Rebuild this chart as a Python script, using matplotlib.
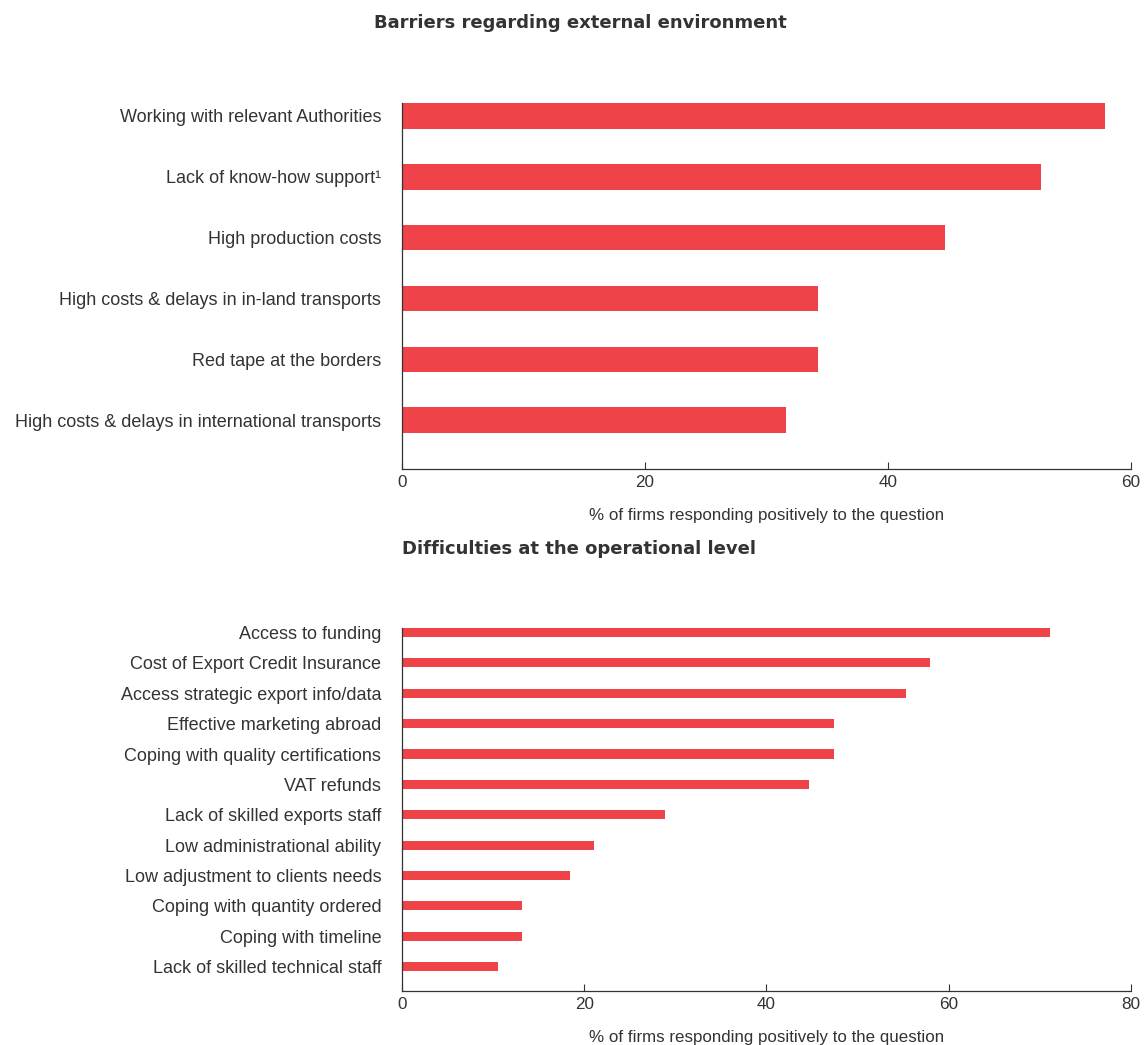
import matplotlib
matplotlib.use("Agg")
import matplotlib.pyplot as plt

plt.rcParams['font.family'] = ['Liberation Sans', 'DejaVu Sans']

# External-environment barriers (% of firms)
barrier_labels = [
    "Working with relevant Authorities",
    "Lack of know-how support\u00b9",
    "High production costs",
    "High costs & delays in in-land transports",
    "Red tape at the borders",
    "High costs & delays in international transports",
]
barrier_values = [57.9, 52.6, 44.7, 34.2, 34.2, 31.6]
barrier_ticks = [0, 20, 40, 60]

# Operational-level difficulties (% of firms)
difficulty_labels = [
    "Access to funding",
    "Cost of Export Credit Insurance",
    "Access strategic export info/data",
    "Effective marketing abroad",
    "Coping with quality certifications",
    "VAT refunds",
    "Lack of skilled exports staff",
    "Low administrational ability",
    "Low adjustment to clients needs",
    "Coping with quantity ordered",
    "Coping with timeline",
    "Lack of skilled technical staff",
]
difficulty_values = [71.1, 57.9, 55.3, 47.4, 47.4, 44.7, 28.9, 21.1, 18.4, 13.2, 13.2, 10.5]
difficulty_ticks = [0, 20, 40, 60, 80]

BAR = "#EF4349"
TXT = "#333333"
XLABEL = "% of firms responding positively to the question"
TITLE_FONT = dict(family=["DejaVu Sans"], fontsize=13, fontweight="bold", color=TXT)

fig = plt.figure(figsize=(11.44, 10.45), dpi=100)


def draw(ax, labels, values, ticks, height):
    n = len(labels)
    pos = list(range(n - 1, -1, -1))
    ax.barh(pos, values, height=height, color=BAR, edgecolor="none")
    ax.set_yticks(pos)
    ax.set_yticklabels(labels, fontsize=13, color=TXT)
    ax.tick_params(axis="y", length=0, pad=15)
    ax.set_xticks(ticks)
    ax.set_xticklabels([str(t) for t in ticks], fontsize=12.3, color=TXT)
    ax.tick_params(axis="x", direction="in", length=5, width=0.8, color="#333333", pad=4)
    ax.set_xlim(ticks[0], ticks[-1])
    ax.set_ylim(-0.8, n - 1 + height / 2)
    for s in ("top", "right"):
        ax.spines[s].set_visible(False)
    for s in ("left", "bottom"):
        ax.spines[s].set_color("#333333")
        ax.spines[s].set_linewidth(0.9)
    ax.set_xlabel(XLABEL, fontsize=12.2, color=TXT, labelpad=13.5)


ax1 = fig.add_axes([0.3514, 0.5512, 0.6372, 0.3502])
draw(ax1, barrier_labels, barrier_values, barrier_ticks, 0.42)
fig.text(0.507, 0.978, "Barriers regarding external environment", ha="center", va="center",
         **TITLE_FONT)

ax2 = fig.add_axes([0.3514, 0.0517, 0.6372, 0.3474])
draw(ax2, difficulty_labels, difficulty_values, difficulty_ticks, 0.3)
fig.text(0.3514, 0.4745, "Difficulties at the operational level", ha="left", va="center",
         **TITLE_FONT)

fig.savefig("out.png", dpi=100, facecolor="white")
